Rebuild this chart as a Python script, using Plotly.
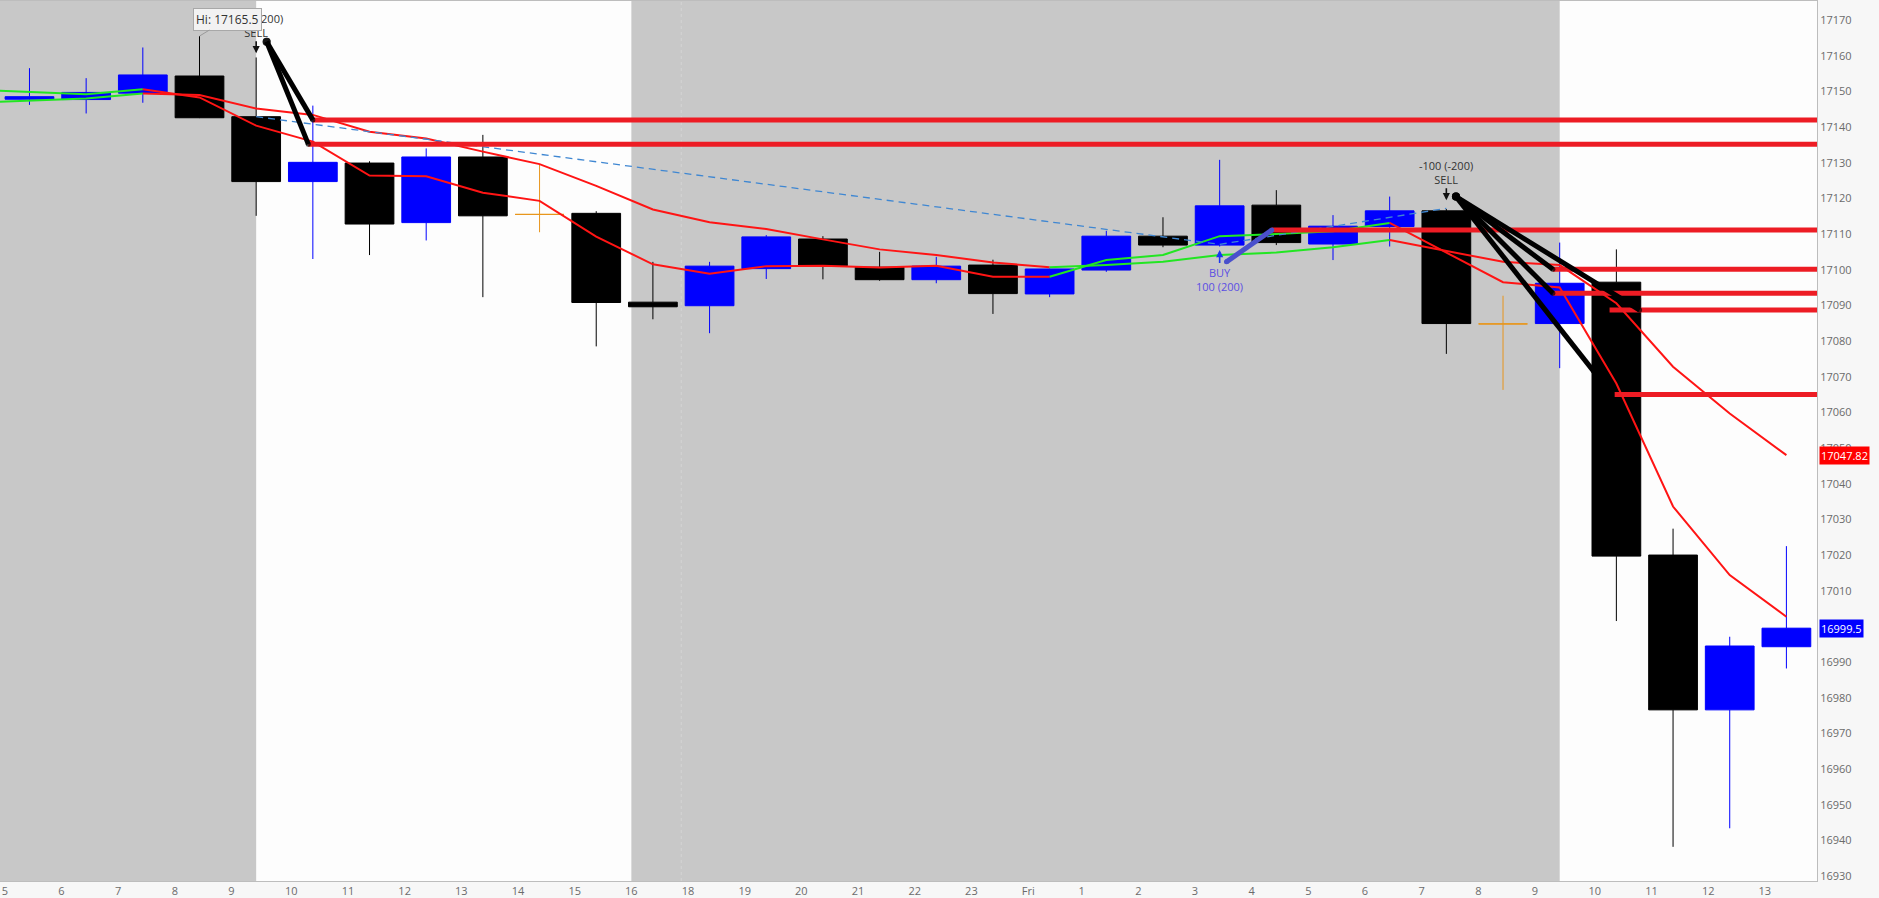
import plotly.graph_objects as go

# ---------------- data ----------------
tick_labels = ["5", "6", "7", "8", "9", "10", "11", "12", "13", "14", "15", "16", "18", "19",
               "20", "21", "22", "23", "Fri", "1", "2", "3", "4", "5", "6", "7", "8", "9",
               "10", "11", "12", "13"]

opens = [17147.8, 17147.7, 17149.5, 17154.3, 17142.9, 17124.7, 17129.9, 17113.2, 17131.6, 17115.5,
         17115.8, 17090.9, 17089.9, 17100.3, 17108.6, 17100.7, 17097.2, 17101.3, 17093.2, 17099.9,
         17109.4, 17106.9, 17118.1, 17107.2, 17112.1, 17116.5, 17084.8, 17084.9, 17096.5, 17020.0,
         16976.6, 16994.3]
highs = [17156.5, 17153.7, 17162.3, 17165.5, 17159.5, 17146.0, 17130.4, 17134.0, 17137.8, 17129.5,
         17116.4, 17102.2, 17102.2, 17109.7, 17109.4, 17105.0, 17103.6, 17102.8, 17100.3, 17110.9,
         17114.7, 17130.8, 17122.3, 17115.3, 17120.5, 17117.0, 17092.7, 17107.6, 17105.7, 17027.4,
         16997.1, 17022.5]
lows = [17146.2, 17143.8, 17146.8, 17142.5, 17115.1, 17103.0, 17104.1, 17108.2, 17092.3, 17110.5,
        17078.5, 17086.1, 17082.2, 17097.4, 17097.3, 17096.9, 17096.2, 17087.6, 17092.3, 17099.4,
        17106.3, 17106.5, 17106.9, 17102.7, 17106.5, 17076.4, 17066.3, 17072.4, 17001.5, 16938.2,
        16943.4, 16988.2]
closes = [17148.5, 17149.7, 17154.6, 17142.6, 17124.7, 17130.1, 17112.8, 17131.6, 17115.1, 17115.5,
          17090.8, 17089.6, 17101.0, 17109.2, 17101.1, 17097.2, 17101.0, 17093.3, 17100.2, 17109.4,
          17106.9, 17117.9, 17107.6, 17112.2, 17116.5, 17084.9, 17084.8, 17096.2, 17019.7, 16976.6,
          16994.5, 16999.5]
doji_bars = [9, 26]

# two moving averages, first value belongs to the bar before the visible range
ma_x = list(range(-1, 32))
ma_fast = [17150.5, 17149.9, 17149.2, 17150.6, 17148.3, 17140.4, 17135.9, 17126.4, 17126.2, 17121.6,
           17119.3, 17109.3, 17101.5, 17098.9, 17101.0, 17101.1, 17100.6, 17101.1, 17098.0, 17098.0,
           17102.7, 17104.1, 17109.4, 17110.0, 17110.8, 17113.1, 17104.9, 17096.5, 17095.0, 17068.1,
           17033.6, 17014.4, 17002.7]
ma_slow = [17146.8, 17147.4, 17148.0, 17149.4, 17149.0, 17145.2, 17143.4, 17138.7, 17136.8, 17133.1,
           17129.6, 17123.5, 17116.9, 17113.3, 17111.4, 17108.5, 17105.7, 17104.1, 17102.0, 17100.7,
           17101.3, 17102.2, 17104.1, 17104.8, 17106.3, 17108.3, 17105.3, 17102.2, 17101.3, 17090.6,
           17072.8, 17059.7, 17048.0]
ma_segments = [(-1, 2, "up"), (2, 18, "down"), (18, 24, "up"), (24, 31, "down")]

# horizontal price levels
level_prices = [17142.0, 17135.2, 17111.1, 17100.1, 17093.4, 17088.7, 17065.0]
level_starts = [5.0, 4.92, 21.92, 26.88, 26.88, 27.88, 27.97]

# trade connection lines
sell_starts = [(4.185, 17163.9), (25.17, 17120.5)]
sell_ends = [[(5.0, 17142.0), (4.92, 17135.2)],
             [(26.88, 17100.1), (26.88, 17093.4), (27.6, 17071.5), (28.41, 17088.7)]]
buy_line = [(21.12, 17102.2), (21.92, 17111.1)]
fill_path_x = [4.0, 21.0, 25.0]
fill_path_y = [17142.9, 17107.1, 17117.2]

# markers (bar index, price)
sell_marks = [(4, 17160.7), (25, 17119.5)]
buy_mark = (21, 17105.5)
hi_mark = (3, 17165.5)
last_ma = 17047.82
last_close = 16999.5

session_white = [(4.0, 10.62), (27.0, 33.0)]
session_break = 11.5

X_RANGE = [-0.52, 31.54]
Y_RANGE = [16928.62, 17175.33]

# ---------------- colours ----------------
UP = "#0000ff"
DOWN = "#000000"
DOJI = "#e8961e"
MA_UP = "#22e622"
MA_DOWN = "#ff1414"
LEVEL = "#ed1c24"
FONT = "Open Sans"

fig = go.Figure()

norm = [i for i in range(len(opens)) if i not in doji_bars]
fig.add_trace(go.Candlestick(
    x=norm, open=[opens[i] for i in norm], high=[highs[i] for i in norm],
    low=[lows[i] for i in norm], close=[closes[i] for i in norm],
    increasing=dict(line=dict(color=UP, width=1), fillcolor=UP),
    decreasing=dict(line=dict(color=DOWN, width=1), fillcolor=DOWN),
    whiskerwidth=0, showlegend=False, hoverinfo="skip"))
fig.add_trace(go.Candlestick(
    x=doji_bars, open=[opens[i] for i in doji_bars], high=[highs[i] for i in doji_bars],
    low=[lows[i] for i in doji_bars], close=[closes[i] for i in doji_bars],
    increasing=dict(line=dict(color=DOJI, width=1), fillcolor=DOJI),
    decreasing=dict(line=dict(color=DOJI, width=1), fillcolor=DOJI),
    whiskerwidth=0, showlegend=False, hoverinfo="skip"))

# moving averages coloured by trend segment
for a, b, trend in ma_segments:
    i0, i1 = a + 1, b + 2
    col = MA_UP if trend == "up" else MA_DOWN
    for series in (ma_slow, ma_fast):
        fig.add_trace(go.Scatter(x=ma_x[i0:i1], y=series[i0:i1], mode="lines",
                                 line=dict(color=col, width=2), showlegend=False,
                                 hoverinfo="skip"))

# dashed fill path
fig.add_trace(go.Scatter(x=fill_path_x, y=fill_path_y, mode="lines",
                         line=dict(color="#3f87d2", width=1.3, dash="7px,5px"),
                         showlegend=False, hoverinfo="skip"))

# price levels
for p, s in zip(level_prices, level_starts):
    fig.add_trace(go.Scatter(x=[s, X_RANGE[1] + 1], y=[p, p], mode="lines",
                             line=dict(color=LEVEL, width=5), showlegend=False,
                             hoverinfo="skip"))

# buy connection line
fig.add_trace(go.Scatter(x=[pt[0] for pt in buy_line], y=[pt[1] for pt in buy_line],
                         mode="lines+markers", line=dict(color="#4a50cc", width=5),
                         marker=dict(size=5, color="#4a50cc", line=dict(width=0)),
                         showlegend=False, hoverinfo="skip"))

# sell connection lines
for (sx, sy), ends in zip(sell_starts, sell_ends):
    for ex, ey in ends:
        fig.add_trace(go.Scatter(x=[sx, ex], y=[sy, ey], mode="lines+markers",
                                 line=dict(color="#000000", width=5),
                                 marker=dict(size=[8, 5], color="#000000", line=dict(width=0)),
                                 showlegend=False, hoverinfo="skip"))

shapes = []
for x0, x1 in session_white:
    shapes.append(dict(type="rect", xref="x", yref="paper", x0=x0, x1=x1, y0=0, y1=1,
                       fillcolor="#fdfdfd", line=dict(width=0), layer="below"))
shapes.append(dict(type="line", xref="x", yref="paper", x0=session_break, x1=session_break,
                   y0=0, y1=1, line=dict(color="#d4d4d4", width=1, dash="dot"), layer="below"))

annotations = []
for (bx, by) in sell_marks:
    annotations.append(dict(x=bx, y=by, xref="x", yref="y", text="-100 (-200)<br>SELL",
                            showarrow=True, arrowhead=2, arrowsize=0.9, arrowwidth=1.6,
                            arrowcolor="#111111", ax=0, ay=-28,
                            font=dict(family=FONT, size=11, color="#333333")))
annotations.append(dict(x=buy_mark[0], y=buy_mark[1], xref="x", yref="y",
                        text="BUY<br>100 (200)", showarrow=True, arrowhead=2, arrowsize=0.9,
                        arrowwidth=1.6, arrowcolor="#1a35f0", ax=0, ay=29,
                        font=dict(family=FONT, size=11, color="#5b4fe3")))
annotations.append(dict(x=hi_mark[0], y=hi_mark[1], xref="x", yref="y",
                        text="Hi: " + str(hi_mark[1]), showarrow=True, arrowhead=0,
                        arrowwidth=1, arrowcolor="#9a9a9a", ax=28, ay=-17,
                        bgcolor="#f2f2f2", bordercolor="#a8a8a8", borderwidth=1, borderpad=2,
                        font=dict(family=FONT, size=12, color="#333333")))
annotations.append(dict(x=1, y=last_ma, xref="paper", yref="y", xanchor="left", xshift=2,
                        text=f"{last_ma:.2f}", showarrow=False, bgcolor="#ff0000", borderpad=1,
                        font=dict(family=FONT, size=11, color="#ffffff")))
annotations.append(dict(x=1, y=last_close, xref="paper", yref="y", xanchor="left", xshift=2,
                        text=f"{last_close}", showarrow=False, bgcolor="#0000ff", borderpad=1,
                        font=dict(family=FONT, size=11, color="#ffffff")))

fig.update_layout(
    width=1879, height=898,
    margin=dict(l=0, r=62, t=1, b=17),
    paper_bgcolor="#f7f7f7", plot_bgcolor="#c8c8c8",
    boxgap=0.14, boxgroupgap=0,
    shapes=shapes, annotations=annotations, showlegend=False,
    font=dict(family=FONT, size=11, color="#6b6b6b"),
    xaxis=dict(range=X_RANGE, tickvals=[i - 0.5 for i in range(len(tick_labels))],
               ticktext=tick_labels, ticklabelposition="outside right",
               showgrid=False, zeroline=False, ticks="", rangeslider=dict(visible=False),
               showline=True, linecolor="#bdbdbd", linewidth=1, mirror=True,
               tickfont=dict(family=FONT, size=11, color="#6b6b6b")),
    yaxis=dict(range=Y_RANGE, side="right", dtick=10, tick0=0, tickformat="d",
               showgrid=False, zeroline=False, ticks="", showline=True, linecolor="#bdbdbd",
               linewidth=1, mirror=True,
               tickfont=dict(family=FONT, size=11, color="#6b6b6b")),
)

fig.write_html("out.html", config={"displayModeBar": False},
               post_script="document.body.style.margin='0';document.body.style.overflow='hidden';")
